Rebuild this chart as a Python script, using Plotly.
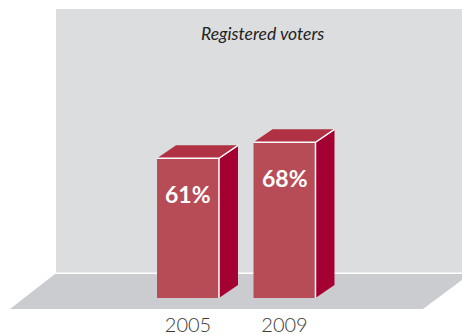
import plotly.graph_objects as go

# Data
years = ["2005", "2009"]
registered_pct = [61, 68]
chart_title = "Registered voters"

# Colours
WALL = "#dcdddf"
FLOOR = "#cbcccf"
FRONT = "#b84c56"
SIDE = "#a40032"
TOP = "#b03044"

# Layout geometry in pixels
W, H = 462, 335
X0_PX = 188          # centre of the first bar
STEP_PX = 96.5       # distance between bar centres
BASE_PX = 298        # floor line the bars stand on
PX_PER_PCT = 2.29
BAR_W = 0.642        # bar width in category units
DEPTH_X_PX, DEPTH_Y_PX = 19, 13

x_range = [-X0_PX / STEP_PX, (W - X0_PX) / STEP_PX]
y_range = [0, BASE_PX / PX_PER_PCT]
dx = DEPTH_X_PX / STEP_PX
dy = DEPTH_Y_PX / PX_PER_PCT
xs = list(range(len(years)))


def px(xp, yp):
    """pixel position -> paper coordinates"""
    return xp / W, 1 - yp / H


fig = go.Figure()

# front faces
fig.add_trace(go.Bar(x=xs, y=registered_pct, width=BAR_W,
                     marker=dict(color=FRONT, line=dict(width=0)),
                     hoverinfo="skip"))

for x, v in zip(xs, registered_pct):
    xl, xr = x - BAR_W / 2, x + BAR_W / 2
    # side face
    fig.add_trace(go.Scatter(
        x=[xr, xr, xr + dx, xr + dx, xr], y=[0, v, v + dy, dy, 0],
        fill="toself", fillcolor=SIDE, mode="lines",
        line=dict(width=0, color=SIDE), hoverinfo="skip"))
    # top face
    fig.add_trace(go.Scatter(
        x=[xl, xr, xr + dx, xl + dx, xl], y=[v, v, v + dy, v + dy, v],
        fill="toself", fillcolor=TOP, mode="lines",
        line=dict(width=0, color=TOP), hoverinfo="skip"))
    # highlighted edges
    fig.add_trace(go.Scatter(
        x=[xr, xr, None, xl, xr, xr + dx], y=[0, v, None, v, v, v + dy],
        mode="lines", line=dict(width=1.5, color="white"), hoverinfo="skip"))
    fig.add_annotation(x=x, y=v, yshift=-36, text=f"<b>{v}%</b>",
                       showarrow=False, yanchor="middle",
                       font=dict(family="Lato", size=23, color="white"))

# back wall and floor
wx0, wy0 = px(56, 272.5)
wx1, wy1 = px(W, 9)
fig.add_shape(type="rect", xref="paper", yref="paper",
              x0=wx0, x1=wx1, y0=wy0, y1=wy1,
              fillcolor=WALL, line_width=0, layer="below")
floor_pts = [px(55, 274), px(470, 274), px(423, 309), px(10, 309)]
path = "M " + " L ".join(f"{a:.4f},{b:.4f}" for a, b in floor_pts) + " Z"
fig.add_shape(type="path", xref="paper", yref="paper", path=path,
              fillcolor=FLOOR, line_width=0, layer="below")

tx, ty = px(262, 34)
fig.add_annotation(xref="paper", yref="paper", x=tx, y=ty, text=chart_title,
                   showarrow=False, xanchor="center", yanchor="middle",
                   font=dict(family="Lato", size=17.5, color="#222222",
                             style="italic"))

fig.update_layout(
    width=W, height=H, margin=dict(l=0, r=0, t=0, b=0, autoexpand=False),
    paper_bgcolor="white", plot_bgcolor="rgba(0,0,0,0)",
    showlegend=False,
    xaxis=dict(range=x_range, tickvals=xs, ticktext=years,
               showgrid=False, zeroline=False, showline=False,
               automargin=False,
               ticks="outside", ticklen=9, tickcolor="rgba(0,0,0,0)",
               tickfont=dict(family="Lato", size=20, color="#3a3a3a",
                             weight=300),
               fixedrange=True),
    yaxis=dict(range=y_range, domain=[(H - BASE_PX) / H, 1], visible=False,
               automargin=False, fixedrange=True),
)

fig.write_html("out.html")
